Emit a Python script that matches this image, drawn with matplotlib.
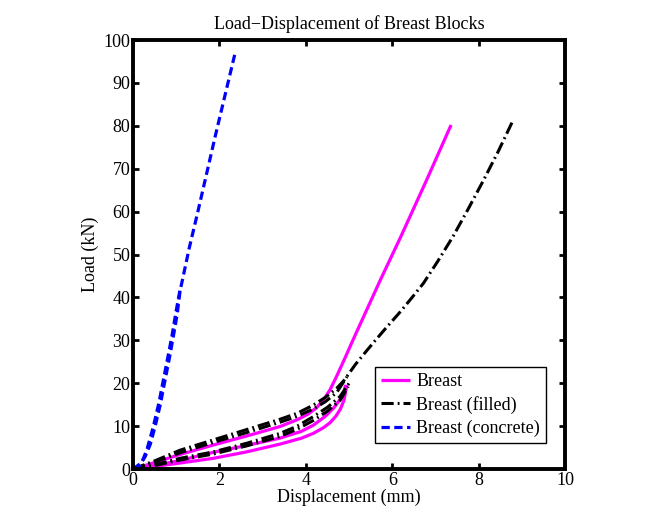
import matplotlib
matplotlib.use('Agg')
import matplotlib.pyplot as plt

plt.rcParams['font.family'] = ['Liberation Serif', 'DejaVu Serif']

# ---------------- data ----------------
# Breast (magenta): three cycles, the upper one continues to failure
breast_a_x = [0, 0.5, 1.09, 1.86, 2.63, 3.4, 3.8, 4.05, 4.25, 4.42, 4.56, 4.72, 4.91, 5.1, 5.29, 5.72, 6.18, 6.8, 7.36]
breast_a_y = [0, 1.5, 3.4, 5.6, 7.7, 9.9, 11.5, 12.8, 14.3, 16.3, 18.5, 21.8, 26.0, 30.3, 34.5, 44.0, 53.8, 67.5, 80.2]
breast_b_x = [0, 0.5, 1.09, 1.86, 2.63, 3.4, 3.9, 4.17, 4.45, 4.65, 4.79, 4.88, 4.92]
breast_b_y = [0, 0.8, 2.0, 3.9, 5.5, 7.2, 8.8, 10.2, 12.3, 14.3, 16.2, 18.0, 19.6]
breast_c_x = [0, 0.5, 1.09, 1.86, 2.63, 3.4, 3.9, 4.17, 4.4, 4.56, 4.7, 4.8, 4.88, 4.95]
breast_c_y = [0, 0.6, 1.4, 2.5, 4.0, 5.8, 7.2, 8.3, 9.6, 10.8, 12.4, 14.0, 16.0, 19.6]

# Breast (filled) (black dash-dot): upper / lower bands, then loading to failure
filled_a_x = [0, 0.5, 1.09, 1.86, 2.63, 3.4, 3.8, 4.17, 4.45, 4.71, 4.87, 5.0, 5.14, 5.4, 5.6, 5.83, 6.18, 6.45, 6.72, 7.05, 7.41, 7.75, 8.11, 8.45, 8.79]
filled_a_y = [0, 1.9, 4.4, 6.8, 9.2, 11.6, 13.0, 14.9, 16.7, 18.8, 20.5, 22.3, 24.3, 27.5, 29.9, 32.6, 36.6, 39.9, 43.3, 48.4, 54.3, 60.5, 67.3, 74.0, 81.2]
filled_b_x = [0, 0.5, 1.09, 1.86, 2.63, 3.4, 3.8, 4.17, 4.45, 4.71, 4.95]
filled_b_y = [0, 1.6, 3.8, 6.2, 8.5, 10.9, 12.3, 14.0, 15.7, 17.8, 21.5]
filled_c_x = [0, 0.5, 1.09, 1.86, 2.63, 3.4, 3.8, 4.17, 4.5, 4.79, 5.0]
filled_c_y = [0, 1.0, 2.5, 4.0, 6.0, 8.3, 10.0, 12.2, 14.4, 16.9, 20.0]
filled_d_x = [0, 0.5, 1.09, 1.86, 2.63, 3.4, 3.8, 4.17, 4.5, 4.79, 4.98]
filled_d_y = [0, 0.8, 2.1, 3.5, 5.4, 7.6, 9.3, 11.3, 13.5, 16.0, 19.2]

# Breast (concrete) (blue dashed)
concrete_a_x = [0, 0.15, 0.28, 0.4, 0.51, 0.63, 0.74, 0.84, 0.93, 1.02, 1.09, 1.12, 1.3, 1.5, 1.9, 2.36]
concrete_a_y = [0, 0.8, 2.9, 5.8, 9.9, 15.0, 20.7, 25.8, 30.8, 36.0, 41.7, 43.0, 51.5, 60.0, 77.5, 96.9]
concrete_b_x = [0, 0.2, 0.32, 0.47, 0.6, 0.7, 0.8, 0.9, 1.0, 1.1]
concrete_b_y = [0, 1.5, 4.5, 9.9, 15.5, 20.7, 25.8, 31.0, 37.0, 42.5]

x_ticks = [0, 2, 4, 6, 8, 10]
y_ticks = [0, 10, 20, 30, 40, 50, 60, 70, 80, 90, 100]

# ---------------- figure ----------------
fig = plt.figure(figsize=(6.72, 5.28), dpi=100)
ax = fig.add_axes([0.198, 0.1117, 0.643, 0.8125])

mag = dict(color='#ff00ff', lw=2.3, solid_capstyle='butt', solid_joinstyle='round')
blk = dict(color='black', lw=2.2, dashes=(4.0, 1.3, 0.6, 1.3))
blu = dict(color='#0000ff', lw=2.3, dashes=(2.6, 1.4))

ax.plot(breast_a_x, breast_a_y, label='Breast', **mag)
ax.plot(breast_b_x, breast_b_y, **mag)
ax.plot(breast_c_x, breast_c_y, **mag)

ax.plot(filled_a_x, filled_a_y, label='Breast (filled)', **blk)
ax.plot(filled_b_x, filled_b_y, **blk)
ax.plot(filled_c_x, filled_c_y, **blk)
ax.plot(filled_d_x, filled_d_y, **blk)

ax.plot(concrete_a_x, concrete_a_y, label='Breast (concrete)', **blu)
ax.plot(concrete_b_x, concrete_b_y, **blu)

ax.set_xlim(0, 10)
ax.set_ylim(0, 100)
ax.set_xticks(x_ticks)
ax.set_yticks(y_ticks)
ax.tick_params(direction='in', top=True, right=True, length=4, width=2,
               labelsize=13, pad=2)
for s in ax.spines.values():
    s.set_linewidth(2.8)

ax.set_title('Load\u2212Displacement of Breast Blocks', fontsize=13, pad=8)
ax.set_xlabel('Displacement (mm)', fontsize=13, labelpad=0)
ax.set_ylabel('Load (kN)', fontsize=13, labelpad=3)

leg = ax.legend(loc='lower right', bbox_to_anchor=(0.956, 0.06), borderaxespad=0,
                fontsize=13, fancybox=False, framealpha=1, edgecolor='black',
                handlelength=1.6, handletextpad=0.35, labelspacing=0.32,
                borderpad=0.35)
leg.get_frame().set_linewidth(1.0)

fig.savefig('out.png', dpi=100)
